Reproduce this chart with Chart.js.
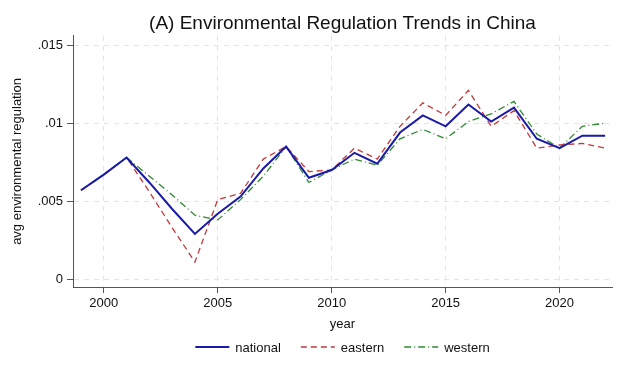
<!DOCTYPE html>
<html>
<head>
<meta charset="utf-8">
<script src="https://cdn.jsdelivr.net/npm/chart.js@4/dist/chart.umd.min.js"></script>
<style>
  html, body { margin: 0; padding: 0; background: #fff; }
  #c { display: block; }
</style>
</head>
<body>
<canvas id="c" width="627" height="376"></canvas>
<script>
// data
var years = [1999, 2000, 2001, 2002, 2003, 2004, 2005, 2006, 2007, 2008, 2009, 2010,
             2011, 2012, 2013, 2014, 2015, 2016, 2017, 2018, 2019, 2020, 2021, 2022];
var national = [.0057, .0067, .0078, .0062, .0045, .0029, .0042, .0053, .0071, .0085, .0065, .0070,
                .0081, .0074, .0094, .0105, .0098, .0112, .0101, .0110, .0090, .0084, .0092, .0092];
var eastern  = [.0057, .0067, .0078, .0056, .0033, .0011, .0051, .0055, .0077, .0085, .0069, .0070,
                .0084, .0077, .0098, .0113, .0105, .0121, .0098, .0108, .0084, .0086, .0087, .0084];
var western  = [.0057, .0067, .0078, .0066, .0054, .0041, .0038, .0051, .0066, .0085, .0062, .0070,
                .0077, .0073, .0090, .0096, .0090, .0101, .0106, .0114, .0093, .0084, .0098, .0100];
var xTicks = [2000, 2005, 2010, 2015, 2020];
var yTicks = [0, .005, .01, .015];
var yLabels = ['0', '.005', '.01', '.015'];

var FONT = '"Liberation Sans", Arial, Helvetica, sans-serif';

function pts(vals) {
    return vals.map(function(v, i) { return {x: years[i], y: v}; });
}

// legend drawn under the plot, centred on the plot area
var bottomLegend = {
    id: 'bottomLegend',
    afterDraw: function(chart) {
        var ctx = chart.ctx;
        var area = chart.chartArea;
        var sets = chart.data.datasets;
        var lineLen = 34, gapText = 6, gapItem = 20, y = 347;
        ctx.save();
        ctx.font = '13px ' + FONT;
        var total = 0;
        sets.forEach(function(ds, i) {
            total += lineLen + gapText + ctx.measureText(ds.label).width;
            if (i < sets.length - 1) total += gapItem;
        });
        var x = (area.left + area.right) / 2 - total / 2;
        sets.forEach(function(ds) {
            ctx.beginPath();
            ctx.strokeStyle = ds.borderColor;
            ctx.lineWidth = ds.borderWidth;
            ctx.setLineDash(ds.borderDash || []);
            ctx.moveTo(x, y);
            ctx.lineTo(x + lineLen, y);
            ctx.stroke();
            ctx.setLineDash([]);
            x += lineLen + gapText;
            ctx.fillStyle = '#111';
            ctx.textBaseline = 'middle';
            ctx.fillText(ds.label, x, y + 1);
            x += ctx.measureText(ds.label).width + gapItem;
        });
        ctx.restore();
    }
};

new Chart(document.getElementById('c'), {
    type: 'line',
    data: {
        datasets: [
            {label: 'national', data: pts(national), borderColor: '#1a1aa8', borderWidth: 2},
            {label: 'eastern', data: pts(eastern), borderColor: '#c0393b', borderWidth: 1.3, borderDash: [6, 4]},
            {label: 'western', data: pts(western), borderColor: '#2f8a32', borderWidth: 1.3, borderDash: [7, 3, 1, 3]}
        ]
    },
    options: {
        responsive: false,
        animation: false,
        events: [],
        elements: {
            point: {radius: 0},
            line: {tension: 0, fill: false}
        },
        layout: {padding: {left: 0, right: 15, top: 0, bottom: 44}},
        plugins: {
            legend: {display: false},
            tooltip: {enabled: false},
            title: {
                display: true,
                fullSize: false,
                text: '(A) Environmental Regulation Trends in China',
                color: '#111',
                font: {family: FONT, size: 19, weight: 'normal'},
                padding: {top: 12, bottom: 1}
            }
        },
        scales: {
            x: {
                type: 'linear',
                min: 1998.65,
                max: 2022.3,
                afterBuildTicks: function(s) { s.ticks = xTicks.map(function(v) { return {value: v}; }); },
                afterFit: function(s) { s.height = 45; },
                ticks: {
                    color: '#111',
                    font: {family: FONT, size: 13},
                    padding: 3,
                    maxRotation: 0,
                    callback: function(v) { return String(v); }
                },
                grid: {
                    color: '#e4e4e4',
                    tickColor: '#555',
                    tickLength: 6,
                    tickBorderDash: []
                },
                border: {color: '#555', width: 1, dash: [5, 5]},
                title: {
                    display: true,
                    text: 'year',
                    color: '#111',
                    font: {family: FONT, size: 13},
                    padding: {top: 2, bottom: 0}
                }
            },
            y: {
                min: -0.0005,
                max: 0.0156,
                afterBuildTicks: function(s) { s.ticks = yTicks.map(function(v) { return {value: v}; }); },
                afterFit: function(s) { s.width = 73; },
                ticks: {
                    color: '#111',
                    font: {family: FONT, size: 13},
                    padding: 4,
                    callback: function(v) {
                        var i = yTicks.indexOf(v);
                        return i >= 0 ? yLabels[i] : '';
                    }
                },
                grid: {
                    color: '#e4e4e4',
                    tickColor: '#555',
                    tickLength: 6,
                    tickBorderDash: []
                },
                border: {color: '#555', width: 1, dash: [5, 5]},
                title: {
                    display: true,
                    text: 'avg environmental regulation',
                    color: '#111',
                    font: {family: FONT, size: 13},
                    padding: {top: 10, bottom: 0}
                }
            }
        }
    },
    plugins: [bottomLegend]
});
</script>
</body>
</html>
